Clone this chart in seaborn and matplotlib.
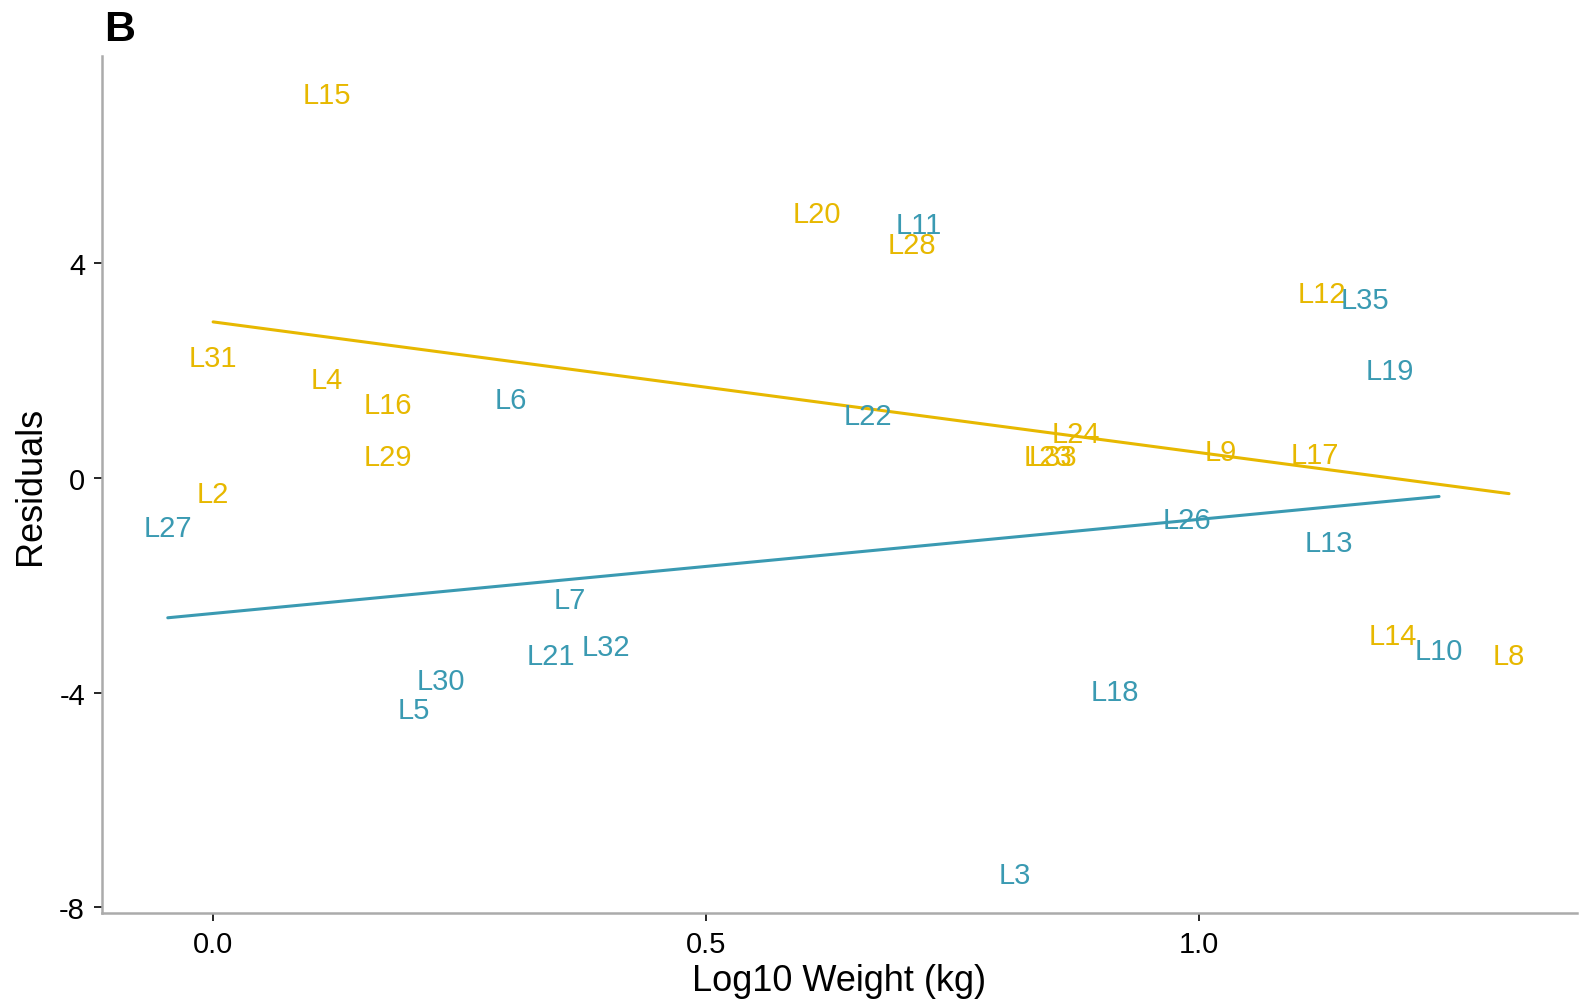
import numpy as np
import pandas as pd
import matplotlib
matplotlib.use("Agg")
import matplotlib.pyplot as plt
import seaborn as sns

# Group A (gold) labels, log10 weight and residuals
gold_labels = ["L15", "L20", "L28", "L12", "L31", "L4", "L16", "L29",
               "L24", "L9", "L17", "L23", "L33", "L2", "L14", "L8"]
gold_x = [0.115, 0.613, 0.709, 1.125, 0.0, 0.115, 0.177, 0.177,
          0.875, 1.022, 1.118, 0.847, 0.852, 0.0, 1.197, 1.315]
gold_y = [7.14, 4.92, 4.34, 3.42, 2.23, 1.82, 1.35, 0.39,
          0.81, 0.49, 0.43, 0.38, 0.38, -0.30, -2.95, -3.32]

# Group B (teal) labels, log10 weight and residuals
teal_labels = ["L11", "L35", "L19", "L6", "L22", "L26", "L27", "L13",
               "L7", "L32", "L21", "L10", "L30", "L18", "L5", "L3"]
teal_x = [0.716, 1.169, 1.194, 0.302, 0.664, 0.988, -0.046, 1.132,
          0.362, 0.399, 0.343, 1.244, 0.231, 0.915, 0.204, 0.814]
teal_y = [4.71, 3.31, 1.99, 1.45, 1.15, -0.79, -0.94, -1.22,
          -2.27, -3.15, -3.31, -3.23, -3.79, -3.98, -4.32, -7.40]

GOLD = "#E7B800"
TEAL = "#3A9AB2"

df = pd.DataFrame({
    "label": gold_labels + teal_labels,
    "x": gold_x + teal_x,
    "y": gold_y + teal_y,
    "group": ["gold"] * len(gold_labels) + ["teal"] * len(teal_labels),
})
palette = {"gold": GOLD, "teal": TEAL}

sns.set_theme(style="white")
plt.rcParams["font.family"] = ["Liberation Sans", "DejaVu Sans"]

fig = plt.figure(figsize=(7.9, 5.02), dpi=200)
ax = fig.add_axes([0.0644, 0.0894, 0.9337, 0.8534])

for g, sub in df.groupby("group"):
    sns.regplot(data=sub, x="x", y="y", scatter=False, ci=None,
                color=palette[g], line_kws={"lw": 1.1}, ax=ax)
    for _, r in sub.iterrows():
        ax.text(r["x"], r["y"], r["label"], color=palette[g],
                ha="center", va="center", fontsize=10.5)

ax.set_xlim(-0.113, 1.384)
ax.set_ylim(-8.11, 7.85)
ax.set_xticks([0.0, 0.5, 1.0])
ax.set_xticklabels(["0.0", "0.5", "1.0"])
ax.set_yticks([-8, -4, 0, 4])
ax.set_yticklabels(["-8", "-4", "0", "4"])
ax.tick_params(axis="both", which="both", length=3, width=0.6,
               color="black", labelsize=10.5, labelcolor="black",
               bottom=True, left=True, pad=3)
ax.set_xlabel("Log10 Weight (kg)", fontsize=13, color="black", labelpad=2)
ax.set_ylabel("Residuals", fontsize=13, color="black", labelpad=4)

for side in ["top", "right"]:
    ax.spines[side].set_visible(False)
for side in ["left", "bottom"]:
    ax.spines[side].set_color("#ABABAB")
    ax.spines[side].set_linewidth(0.9)

fig.text(0.066, 0.99, "B", fontsize=15.5, fontweight="bold",
         ha="left", va="top", color="black")

fig.savefig("out.png", dpi=200, facecolor="white")
